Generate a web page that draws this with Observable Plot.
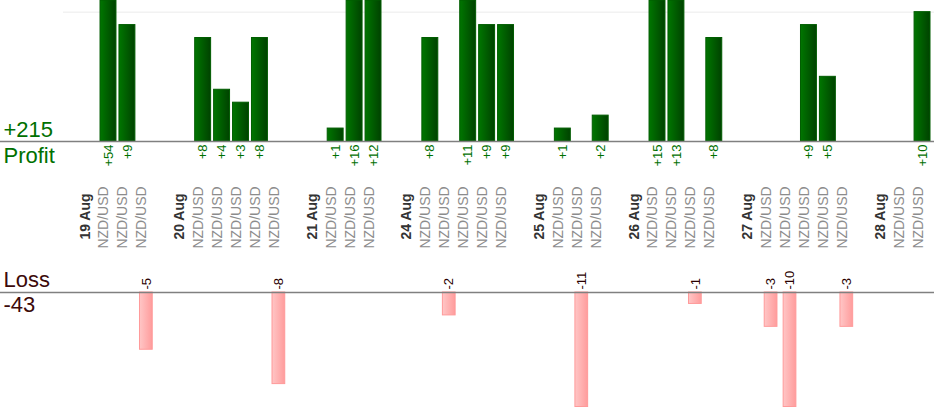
<!DOCTYPE html>
<html>
<head>
<meta charset="utf-8">
<script src="https://cdn.jsdelivr.net/npm/d3@7"></script>
<script src="https://cdn.jsdelivr.net/npm/@observablehq/plot@0.6"></script>
<style>
  html, body { margin: 0; padding: 0; background: #fff; }
  #chart svg { display: block; }
</style>
</head>
<body>
<div id="chart"></div>
<script>
// ---- data ----
const days = ["19 Aug", "20 Aug", "21 Aug", "24 Aug", "25 Aug", "26 Aug", "27 Aug", "28 Aug"];
const pair = "NZD/USD";
const pips19 = [54, 9, -5];
const pips20 = [8, 4, 3, 8, -8];
const pips21 = [1, 16, 12];
const pips24 = [8, -2, 11, 9, 9];
const pips25 = [1, -11, 2];
const pips26 = [15, 13, -1, 8];
const pips27 = [-3, -10, 9, 5, -3];
const pips28 = [0, 10];
const pipsByDay = [pips19, pips20, pips21, pips24, pips25, pips26, pips27, pips28];

// ---- build slots (date label, trades, gap) ----
const slots = [];
pipsByDay.forEach((arr, i) => {
  slots.push({key: `d${i}`, kind: "date", label: days[i]});
  arr.forEach((v, j) => slots.push({key: `d${i}t${j}`, kind: "trade", label: pair, value: v}));
  if (i < pipsByDay.length - 1) slots.push({key: `gap${i}`, kind: "gap", label: ""});
});
const dateSlots = slots.filter(d => d.kind === "date");
const tradeSlots = slots.filter(d => d.kind === "trade");
const profits = tradeSlots.filter(d => d.value > 0);
const losses = tradeSlots.filter(d => d.value < 0);
const totalProfit = d3.sum(profits, d => d.value);
const totalLoss = d3.sum(losses, d => d.value);

const W = 934;
const xScale = {type: "band", domain: slots.map(d => d.key), range: [79.6, 931.5], padding: 0, axis: null};
const font = "'Liberation Sans', Arial, sans-serif";

function gradients() {
  return () => {
    const d = document.createElementNS("http://www.w3.org/2000/svg", "defs");
    d.innerHTML =
      `<linearGradient id="gGreen" x1="0" x2="1" y1="0" y2="0">
         <stop offset="0" stop-color="#007600"/><stop offset="1" stop-color="#004200"/>
       </linearGradient>
       <linearGradient id="gPink" x1="0" x2="1" y1="0" y2="0">
         <stop offset="0" stop-color="#ffc6c6"/><stop offset="1" stop-color="#ff9c9c"/>
       </linearGradient>`;
    return d;
  };
}

const profitPanel = Plot.plot({
  width: W, height: 250,
  marginTop: 0, marginLeft: 0, marginRight: 0, marginBottom: 33,
  style: {fontFamily: font, background: "#fff", overflow: "hidden"},
  x: xScale,
  y: {domain: [0, 10.9], range: [141, 0], clamp: true, axis: null},
  marks: [
    gradients(),
    Plot.ruleY([10], {stroke: "#ebebeb", insetLeft: 63}),
    Plot.barY(profits, {x: "key", y: "value", fill: "url(#gGreen)", stroke: "#005c00", strokeWidth: 1, insetLeft: 1.5, insetRight: 1.5}),
    Plot.ruleY([0], {stroke: "#808080", strokeWidth: 1.5}),
    Plot.text(profits, {x: "key", y: 0, text: d => "+" + d.value, rotate: -90, textAnchor: "end", dy: 3, fill: "#007000", fontSize: 13}),
    Plot.text(tradeSlots, {x: "key", frameAnchor: "bottom", text: "label", rotate: -90, textAnchor: "middle", fill: "#8c8c8c", fontSize: 14}),
    Plot.text(dateSlots, {x: "key", frameAnchor: "bottom", text: "label", rotate: -90, textAnchor: "middle", fill: "#333", fontSize: 14, fontWeight: "bold", dy: -1}),
    Plot.text([totalProfit], {y: 0, frameAnchor: "left", text: d => "+" + d, textAnchor: "start", lineAnchor: "middle", dx: 3, dy: -11.5, fontSize: 22, fill: "#007000"}),
    Plot.text(["Profit"], {y: 0, frameAnchor: "left", text: d => d, textAnchor: "start", lineAnchor: "middle", dx: 3, dy: 14, fontSize: 22, fill: "#007000"})
  ]
});

const lossPanel = Plot.plot({
  width: W, height: 170,
  marginTop: 0, marginLeft: 0, marginRight: 0, marginBottom: 0,
  style: {fontFamily: font, background: "#fff", overflow: "hidden"},
  x: xScale,
  y: {domain: [0, 10], range: [42, 156.5], clamp: true, axis: null},
  marks: [
    gradients(),
    Plot.barY(losses, {x: "key", y: d => -d.value, fill: "url(#gPink)", stroke: "#ff9a9a", strokeWidth: 1, insetLeft: 3.1, insetRight: 3.1}),
    Plot.ruleY([0], {stroke: "#808080", strokeWidth: 1.5}),
    Plot.text(losses, {x: "key", y: 0, text: d => String(d.value), rotate: -90, textAnchor: "start", dy: -3, fill: "#2a0000", fontSize: 13}),
    Plot.text(["Loss"], {y: 0, frameAnchor: "left", text: d => d, textAnchor: "start", lineAnchor: "middle", dx: 3, dy: -12.3, fontSize: 22, fill: "#3c0a0a"}),
    Plot.text([totalLoss], {y: 0, frameAnchor: "left", text: d => String(d), textAnchor: "start", lineAnchor: "middle", dx: 3, dy: 12.7, fontSize: 22, fill: "#3c0a0a"})
  ]
});

document.getElementById("chart").append(profitPanel, lossPanel);
</script>
</body>
</html>
